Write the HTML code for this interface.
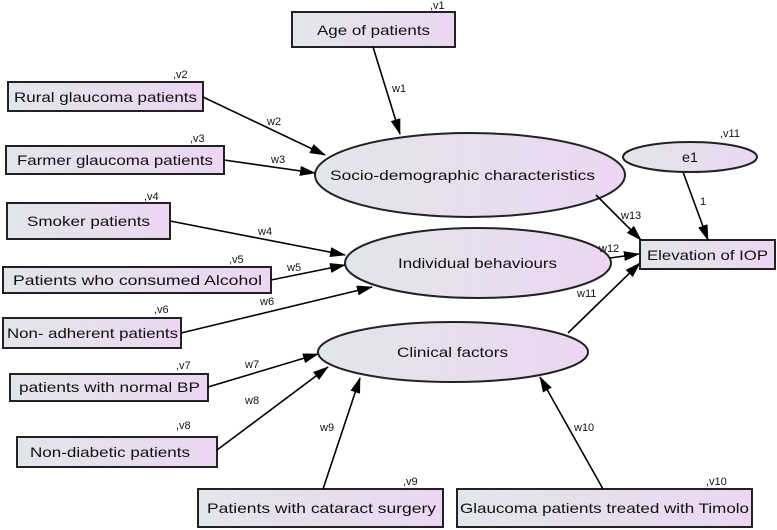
<!DOCTYPE html>
<html><head><meta charset="utf-8"><style>
html,body{margin:0;padding:0;background:#fff}
svg{display:block}
text{font-family:"Liberation Sans",Arial,sans-serif;fill:#111}
</style></head><body>
<svg width="777" height="530" viewBox="0 0 777 530" xmlns="http://www.w3.org/2000/svg">
<defs>
<linearGradient id="g" x1="0" y1="0" x2="1" y2="0">
<stop offset="0" stop-color="#e2e6ea"/><stop offset="1" stop-color="#ecd6f2"/>
</linearGradient>
<marker id="a" markerWidth="16" markerHeight="10" refX="15" refY="5" orient="auto" markerUnits="userSpaceOnUse">
<path d="M0,0 L16,5 L0,10 Z" fill="#000"/>
</marker>
</defs>
<g stroke="#222" stroke-width="2" fill="url(#g)">
<rect x="292" y="12" width="163" height="35"/>
<rect x="8" y="82" width="195" height="29"/>
<rect x="6" y="146" width="218" height="28"/>
<rect x="7" y="203" width="163" height="36"/>
<rect x="3" y="267" width="268" height="26"/>
<rect x="3" y="318" width="178" height="30"/>
<rect x="10" y="374" width="198" height="27"/>
<rect x="17" y="437" width="200" height="30"/>
<rect x="198" y="489" width="245" height="38"/>
<rect x="457" y="489" width="295" height="38"/>
<rect x="640" y="240" width="135" height="29"/>
<ellipse cx="470" cy="175" rx="155" ry="42"/>
<ellipse cx="478" cy="263" rx="133" ry="35"/>
<ellipse cx="453" cy="352" rx="135" ry="30"/>
<ellipse cx="690" cy="157" rx="67" ry="15"/>
</g>
<g stroke="#000" stroke-width="1.6" fill="none" marker-end="url(#a)">
<line x1="373" y1="47" x2="400" y2="134"/>
<line x1="203" y1="97" x2="325" y2="155"/>
<line x1="224" y1="160" x2="315" y2="173"/>
<line x1="170" y1="221" x2="345" y2="255"/>
<line x1="271" y1="280" x2="345" y2="265"/>
<line x1="181" y1="333" x2="372" y2="287"/>
<line x1="208" y1="387" x2="318" y2="354"/>
<line x1="217" y1="450" x2="328" y2="367"/>
<line x1="323" y1="489" x2="360" y2="378"/>
<line x1="603" y1="489" x2="540" y2="377"/>
<line x1="596" y1="195" x2="641" y2="240"/>
<line x1="610" y1="258" x2="639" y2="254"/>
<line x1="568" y1="333" x2="640" y2="263"/>
<line x1="683" y1="172" x2="708" y2="240"/>
</g>
<g font-size="14" lengthAdjust="spacingAndGlyphs">
<text x="317" y="35" textLength="113" lengthAdjust="spacingAndGlyphs">Age of patients</text>
<text x="14" y="102" textLength="183" lengthAdjust="spacingAndGlyphs">Rural glaucoma patients</text>
<text x="17" y="165" textLength="196" lengthAdjust="spacingAndGlyphs">Farmer glaucoma patients</text>
<text x="27" y="226" textLength="123" lengthAdjust="spacingAndGlyphs">Smoker patients</text>
<text x="13" y="285" textLength="249" lengthAdjust="spacingAndGlyphs">Patients who consumed Alcohol</text>
<text x="7" y="338" textLength="171" lengthAdjust="spacingAndGlyphs">Non- adherent patients</text>
<text x="19" y="392" textLength="181" lengthAdjust="spacingAndGlyphs">patients with normal BP</text>
<text x="30" y="457" textLength="160" lengthAdjust="spacingAndGlyphs">Non-diabetic patients</text>
<text x="207" y="513" textLength="229" lengthAdjust="spacingAndGlyphs">Patients with cataract  surgery</text>
<text x="460" y="513" textLength="289" lengthAdjust="spacingAndGlyphs">Glaucoma patients treated with Timolo</text>
<text x="647" y="260" textLength="121" lengthAdjust="spacingAndGlyphs">Elevation of IOP</text>
<text x="330" y="180" textLength="265" lengthAdjust="spacingAndGlyphs">Socio-demographic  characteristics</text>
<text x="398" y="268" textLength="159" lengthAdjust="spacingAndGlyphs">Individual behaviours</text>
<text x="397" y="357" textLength="111" lengthAdjust="spacingAndGlyphs">Clinical factors</text>
<text x="682" y="162" textLength="16" lengthAdjust="spacingAndGlyphs">e1</text>
</g>
<g font-size="11">
<text x="430" y="9">,v1</text>
<text x="173" y="78">,v2</text>
<text x="190" y="142">,v3</text>
<text x="144" y="200">,v4</text>
<text x="229" y="263">,v5</text>
<text x="154" y="313">,v6</text>
<text x="176" y="369">,v7</text>
<text x="176" y="429">,v8</text>
<text x="403" y="485">,v9</text>
<text x="706" y="485">,v10</text>
<text x="720" y="137">,v11</text>
<text x="392" y="92">w1</text>
<text x="267" y="125">w2</text>
<text x="271" y="163">w3</text>
<text x="258" y="235">w4</text>
<text x="287" y="271">w5</text>
<text x="260" y="305">w6</text>
<text x="245" y="368">w7</text>
<text x="245" y="404">w8</text>
<text x="320" y="431">w9</text>
<text x="574" y="431">w10</text>
<text x="621" y="219">w13</text>
<text x="599" y="252">w12</text>
<text x="577" y="297">w11</text>
<text x="700" y="205">1</text>
</g>
</svg>
</body></html>
